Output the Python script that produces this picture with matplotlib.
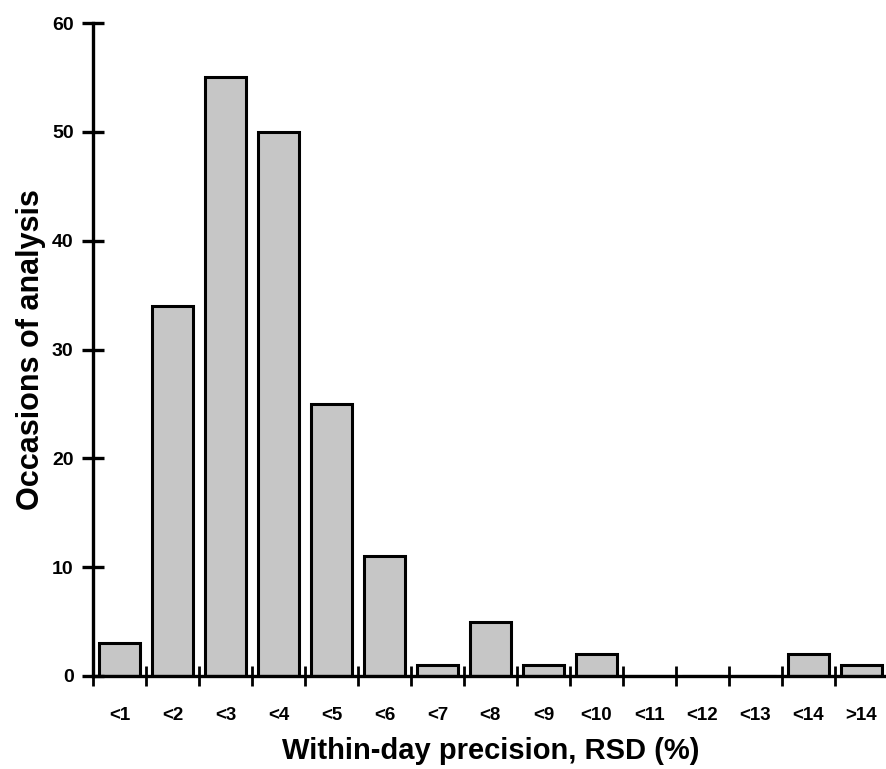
import numpy as np
import matplotlib.pyplot as plt

categories = ["<1", "<2", "<3", "<4", "<5", "<6", "<7", "<8", "<9", "<10",
              "<11", "<12", "<13", "<14", ">14"]
counts = [3, 34, 55, 50, 25, 11, 1, 5, 1, 2, 0, 0, 0, 2, 1]

plt.rcParams['font.family'] = ['Liberation Sans', 'DejaVu Sans']

fig = plt.figure(figsize=(8.86, 7.69), dpi=100)
ax = fig.add_axes([0.105, 0.121, 0.897, 0.849])

x = np.arange(len(categories)) + 0.5
ax.bar(x, counts, width=0.78, color="#c6c6c6", edgecolor="black", linewidth=2.2)

ax.set_xlim(0, len(categories))
ax.set_ylim(0, 60)

for s in ["top", "right"]:
    ax.spines[s].set_visible(False)
for s in ["left", "bottom"]:
    ax.spines[s].set_linewidth(2.4)

# boundaries get the ticks, centres get the labels
ax.set_xticks(np.arange(len(categories) + 1))
ax.set_xticklabels([])
ax.set_xticks(x, minor=True)
ax.set_xticklabels(categories, minor=True, fontsize=13.5, fontweight="bold")
ax.tick_params(axis="x", which="major", direction="inout", length=14, width=2)
ax.tick_params(axis="x", which="minor", length=0, pad=22)

ax.set_yticks(np.arange(0, 61, 10))
ax.tick_params(axis="y", direction="inout", length=16, width=2.4, labelsize=14, pad=6)
for lab in ax.get_yticklabels():
    lab.set_fontweight("bold")

ax.set_xlabel("Within-day precision, RSD (%)", fontsize=21, fontweight="bold", labelpad=10)
ax.set_ylabel("Occasions of analysis", fontsize=22, fontweight="bold", labelpad=4)

fig.savefig("out.png", dpi=100)
